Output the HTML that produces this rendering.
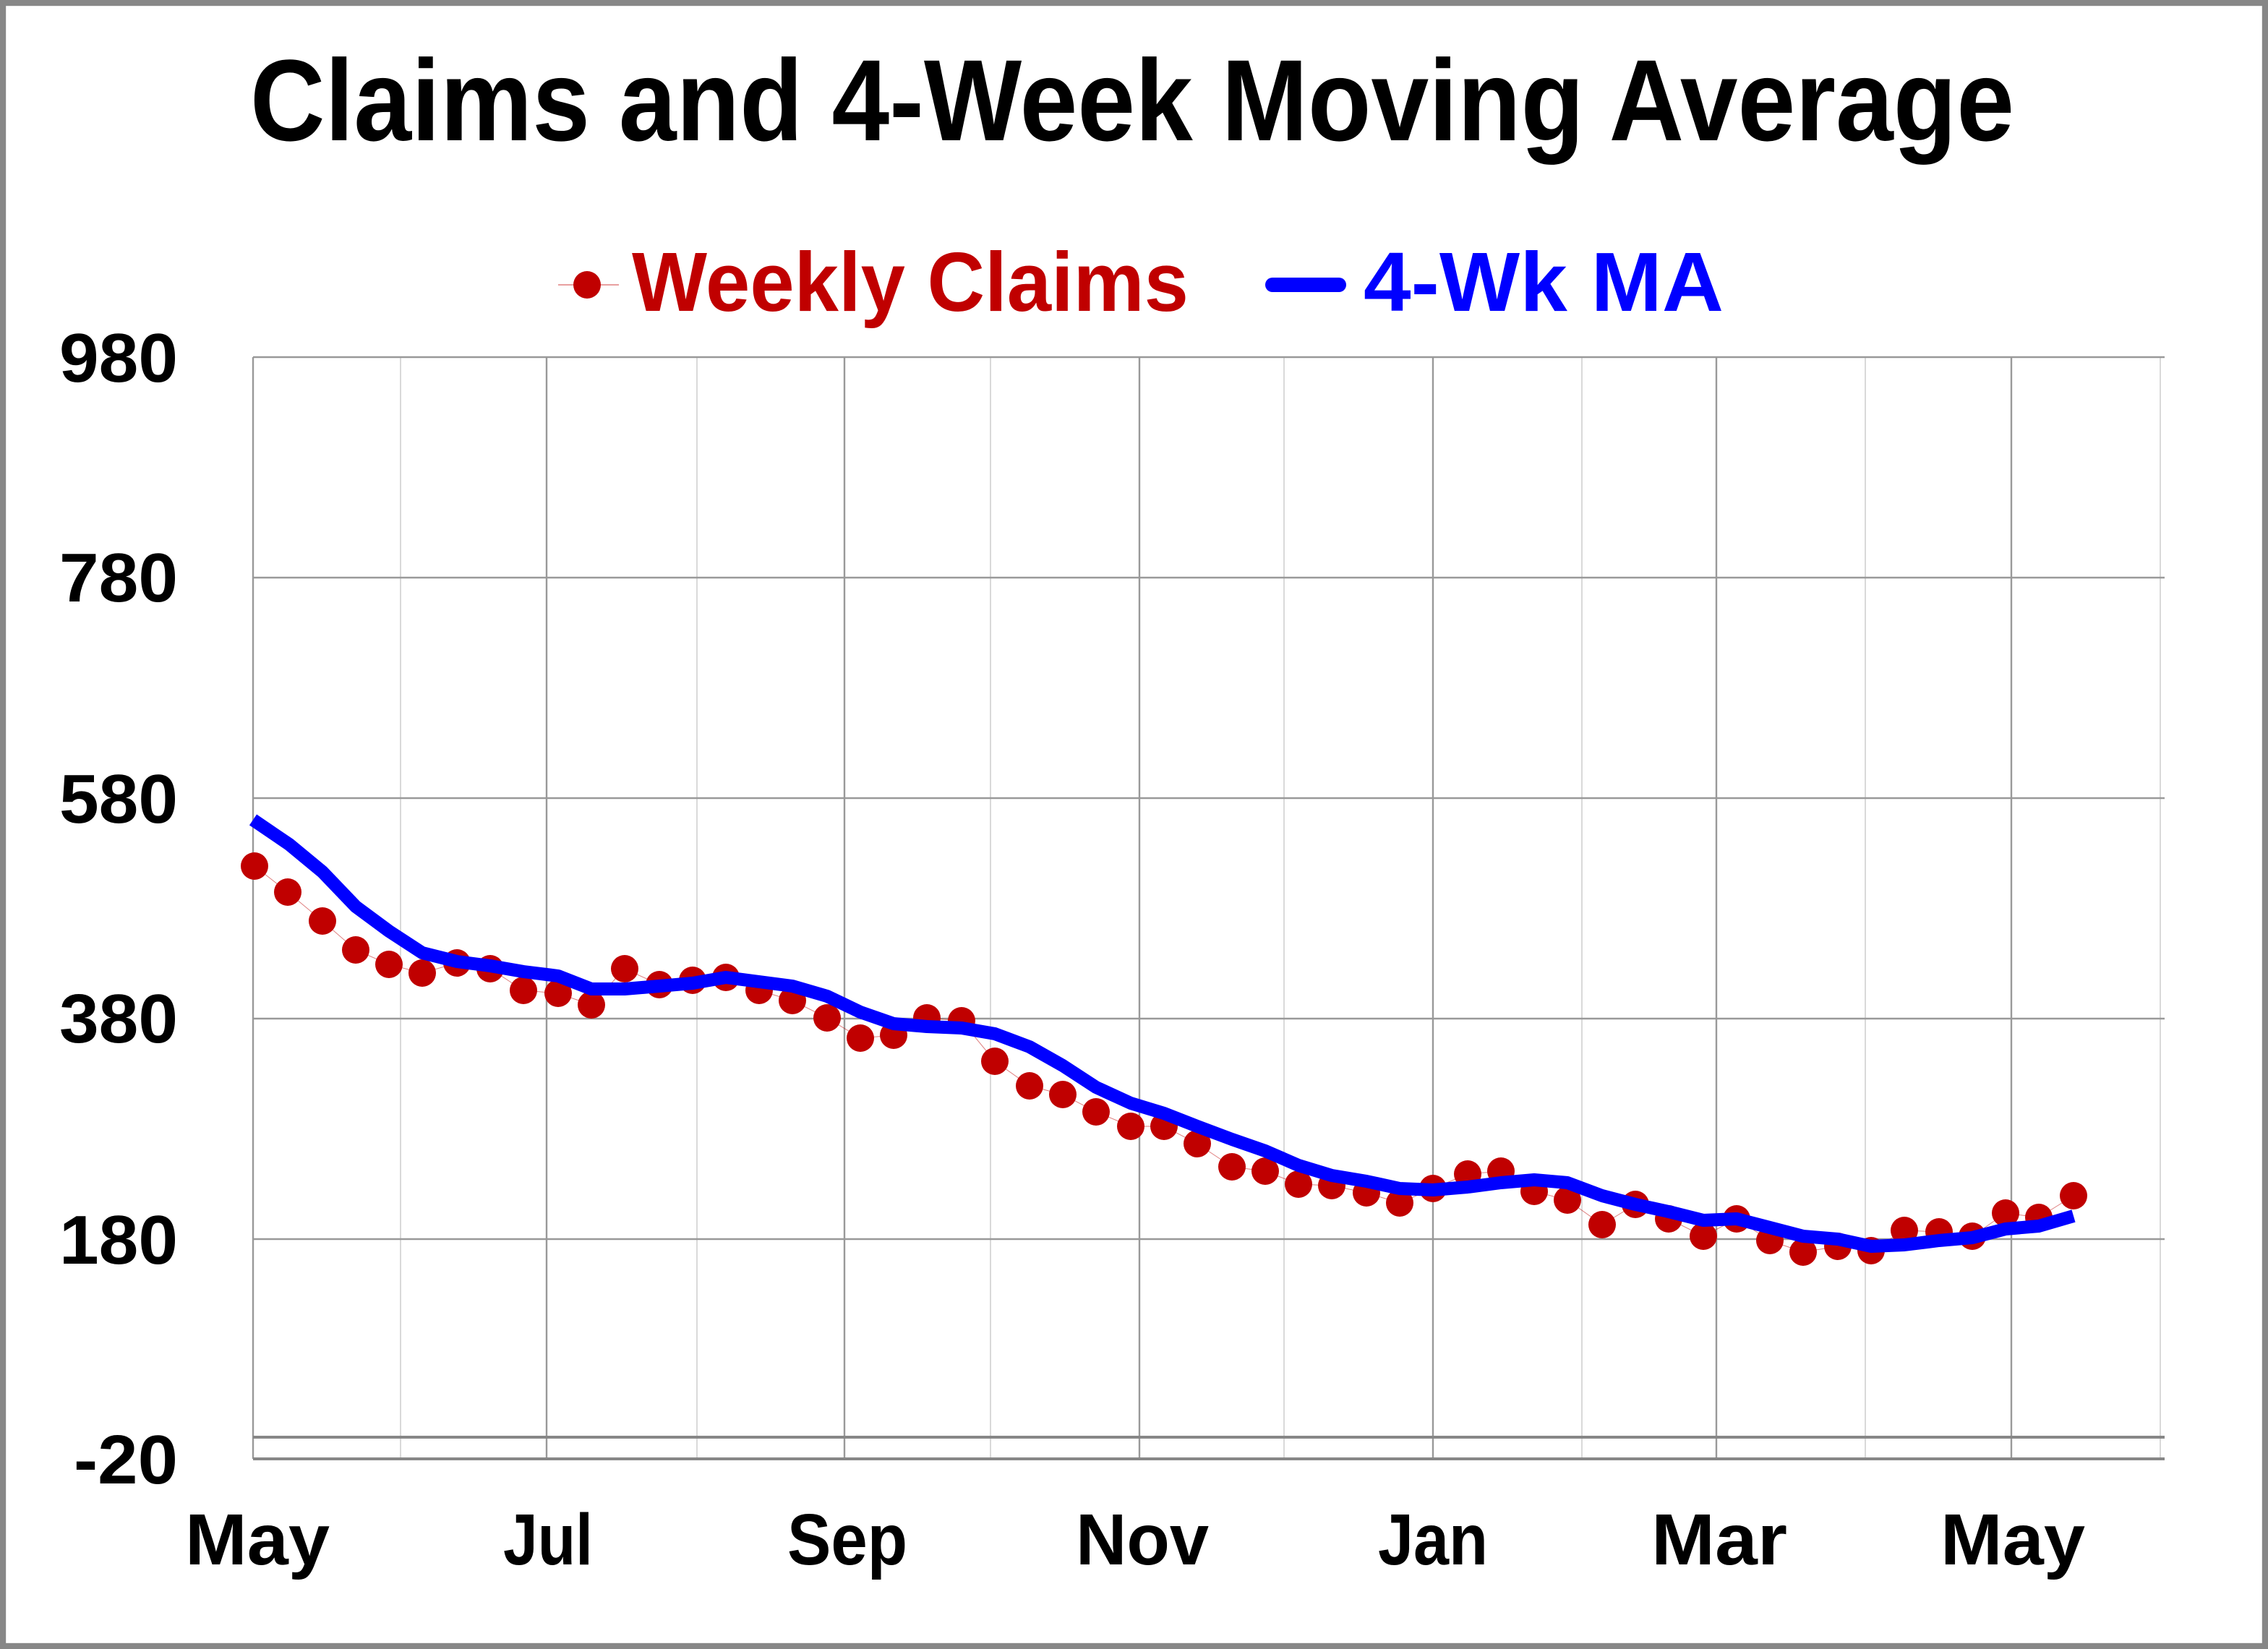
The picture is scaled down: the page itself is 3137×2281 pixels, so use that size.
<!DOCTYPE html>
<html><head><meta charset="utf-8"><style>html,body{margin:0;padding:0;background:#fff}svg{display:block}</style></head>
<body>
<svg width="3137" height="2281" viewBox="0 0 1568.5 1140.5" xmlns="http://www.w3.org/2000/svg" font-family="'Liberation Sans', sans-serif" font-weight="bold">
<rect x="2" y="2" width="1564.5" height="1136.5" fill="#fff" stroke="#878787" stroke-width="4.2"/>
<text x="783" y="97" font-size="80" text-anchor="middle" textLength="1220" lengthAdjust="spacingAndGlyphs" fill="#000">Claims and 4-Week Moving Average</text>
<line x1="386" y1="197" x2="428" y2="197" stroke="#C00000" stroke-width="0.6" opacity="0.6"/>
<circle cx="406" cy="197" r="9.5" fill="#C00000"/>
<text x="437" y="215" font-size="58" fill="#C00000" textLength="385" lengthAdjust="spacingAndGlyphs">Weekly Claims</text>
<line x1="880" y1="197" x2="926" y2="197" stroke="#0000FF" stroke-width="10" stroke-linecap="round"/>
<text x="943" y="215" font-size="58" fill="#0000FF" textLength="249" lengthAdjust="spacingAndGlyphs">4-Wk MA</text>
<g stroke="#d9d9d9" stroke-width="1">
<line x1="277" y1="247" x2="277" y2="1009"/><line x1="482" y1="247" x2="482" y2="1009"/><line x1="685" y1="247" x2="685" y2="1009"/><line x1="888" y1="247" x2="888" y2="1009"/><line x1="1094" y1="247" x2="1094" y2="1009"/><line x1="1290" y1="247" x2="1290" y2="1009"/><line x1="1494" y1="247" x2="1494" y2="1009"/>
</g>
<g stroke="#999" stroke-width="1.2">
<line x1="378" y1="247" x2="378" y2="1009"/><line x1="584" y1="247" x2="584" y2="1009"/><line x1="788" y1="247" x2="788" y2="1009"/><line x1="991" y1="247" x2="991" y2="1009"/><line x1="1187" y1="247" x2="1187" y2="1009"/><line x1="1391" y1="247" x2="1391" y2="1009"/>
<line x1="175" y1="247" x2="1497" y2="247"/><line x1="175" y1="399.5" x2="1497" y2="399.5"/><line x1="175" y1="552" x2="1497" y2="552"/><line x1="175" y1="704.5" x2="1497" y2="704.5"/><line x1="175" y1="857" x2="1497" y2="857"/>
<line x1="175" y1="247" x2="175" y2="1009"/>
</g>
<line x1="175" y1="994" x2="1497" y2="994" stroke="#878787" stroke-width="2"/>
<line x1="175" y1="1009" x2="1497" y2="1009" stroke="#878787" stroke-width="2"/>
<g font-size="48" text-anchor="end" fill="#000">
<text x="123" y="264" textLength="82" lengthAdjust="spacingAndGlyphs">980</text><text x="123" y="416" textLength="82" lengthAdjust="spacingAndGlyphs">780</text><text x="123" y="569" textLength="82" lengthAdjust="spacingAndGlyphs">580</text><text x="123" y="721" textLength="82" lengthAdjust="spacingAndGlyphs">380</text><text x="123" y="874" textLength="82" lengthAdjust="spacingAndGlyphs">180</text><text x="123" y="1026" textLength="72" lengthAdjust="spacingAndGlyphs">-20</text>
</g>
<g font-size="50" text-anchor="middle" fill="#000">
<text x="178" y="1082" textLength="100" lengthAdjust="spacingAndGlyphs">May</text><text x="379" y="1082" textLength="62" lengthAdjust="spacingAndGlyphs">Jul</text><text x="586" y="1082" textLength="83" lengthAdjust="spacingAndGlyphs">Sep</text><text x="790" y="1082" textLength="92" lengthAdjust="spacingAndGlyphs">Nov</text><text x="991" y="1082" textLength="76" lengthAdjust="spacingAndGlyphs">Jan</text><text x="1189" y="1082" textLength="94" lengthAdjust="spacingAndGlyphs">Mar</text><text x="1392" y="1082" textLength="100" lengthAdjust="spacingAndGlyphs">May</text>
</g>
<polyline fill="none" stroke="#C00000" stroke-width="0.5" opacity="0.5" points="176,599 199,617 223,637 246,657 269,667 292,673 316,666 339,670 362,685 386,687 409,695 432,670 456,681 479,678 502,676 525,685 548,692 572,704 595,718 618,716 641,704 665,706 688,734 712,751 735,757 758,769 782,779 805,779 828,791 852,807 875,810 898,819 921,820 945,825 968,832 991,822 1015,812 1038,810 1061,824 1084,830 1108,847 1131,833 1154,843 1178,855 1201,843 1224,858 1247,866 1271,862 1294,865 1317,851 1341,852 1364,855 1387,839 1410,842 1434,827"/>
<g fill="#C00000">
<circle cx="176" cy="599" r="9.5"/><circle cx="199" cy="617" r="9.5"/><circle cx="223" cy="637" r="9.5"/><circle cx="246" cy="657" r="9.5"/><circle cx="269" cy="667" r="9.5"/><circle cx="292" cy="673" r="9.5"/><circle cx="316" cy="666" r="9.5"/><circle cx="339" cy="670" r="9.5"/><circle cx="362" cy="685" r="9.5"/><circle cx="386" cy="687" r="9.5"/><circle cx="409" cy="695" r="9.5"/><circle cx="432" cy="670" r="9.5"/><circle cx="456" cy="681" r="9.5"/><circle cx="479" cy="678" r="9.5"/><circle cx="502" cy="676" r="9.5"/><circle cx="525" cy="685" r="9.5"/><circle cx="548" cy="692" r="9.5"/><circle cx="572" cy="704" r="9.5"/><circle cx="595" cy="718" r="9.5"/><circle cx="618" cy="716" r="9.5"/><circle cx="641" cy="704" r="9.5"/><circle cx="665" cy="706" r="9.5"/><circle cx="688" cy="734" r="9.5"/><circle cx="712" cy="751" r="9.5"/><circle cx="735" cy="757" r="9.5"/><circle cx="758" cy="769" r="9.5"/><circle cx="782" cy="779" r="9.5"/><circle cx="805" cy="779" r="9.5"/><circle cx="828" cy="791" r="9.5"/><circle cx="852" cy="807" r="9.5"/><circle cx="875" cy="810" r="9.5"/><circle cx="898" cy="819" r="9.5"/><circle cx="921" cy="820" r="9.5"/><circle cx="945" cy="825" r="9.5"/><circle cx="968" cy="832" r="9.5"/><circle cx="991" cy="822" r="9.5"/><circle cx="1015" cy="812" r="9.5"/><circle cx="1038" cy="810" r="9.5"/><circle cx="1061" cy="824" r="9.5"/><circle cx="1084" cy="830" r="9.5"/><circle cx="1108" cy="847" r="9.5"/><circle cx="1131" cy="833" r="9.5"/><circle cx="1154" cy="843" r="9.5"/><circle cx="1178" cy="855" r="9.5"/><circle cx="1201" cy="843" r="9.5"/><circle cx="1224" cy="858" r="9.5"/><circle cx="1247" cy="866" r="9.5"/><circle cx="1271" cy="862" r="9.5"/><circle cx="1294" cy="865" r="9.5"/><circle cx="1317" cy="851" r="9.5"/><circle cx="1341" cy="852" r="9.5"/><circle cx="1364" cy="855" r="9.5"/><circle cx="1387" cy="839" r="9.5"/><circle cx="1410" cy="842" r="9.5"/><circle cx="1434" cy="827" r="9.5"/>
</g>
<polyline fill="none" stroke="#0000FF" stroke-width="9" stroke-linejoin="round" points="175,567 200,584 223,603 246,627 269,644 292,659 316,665 339,668 362,672 386,675 409,684 432,684 456,682 479,680 502,676 525,679 548,682 572,689 595,700 618,708 641,710 665,711 688,715 712,724 735,737 758,752 782,763 805,770 828,779 852,788 875,796 898,806 921,813 945,817 968,822 991,823 1015,821 1038,818 1061,816 1084,818 1108,827 1131,833 1154,838 1178,844 1201,843 1224,849 1247,855 1271,857 1294,862 1317,861 1341,858 1364,856 1387,850 1410,848 1434,841"/>
</svg>
</body></html>
